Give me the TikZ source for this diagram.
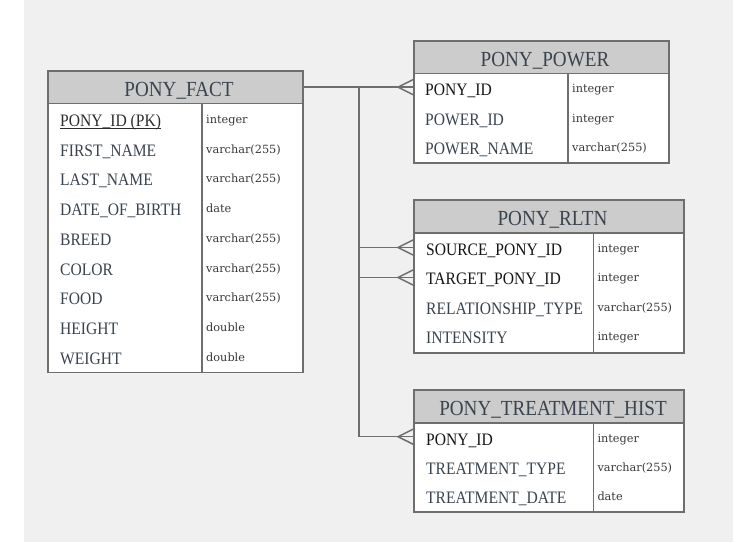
\documentclass[tikz,border=0pt]{standalone}
\usepackage{fontspec}
\setmainfont{Liberation Serif}
\newfontfamily\namefont[FakeStretch=0.89]{Liberation Serif}
\newfontfamily\typefont{DejaVu Serif}
\definecolor{bggray}{HTML}{F0F0F0}
\definecolor{hdrgray}{HTML}{CCCCCC}
\definecolor{bordergray}{HTML}{6E6E6E}
\definecolor{slate}{HTML}{3A444F}
\definecolor{fkblack}{HTML}{151515}
\tikzset{
  tblbody/.style={draw=bordergray, line width=1.6pt, fill=white, anchor=north west, inner sep=0pt, outer sep=0pt},
  tblhead/.style={draw=bordergray, line width=1.6pt, fill=hdrgray, anchor=north west, inner sep=0pt, outer sep=0pt},
  divline/.style={draw=bordergray, line width=1.6pt},
  headtxt/.style={anchor=base, inner sep=0pt, text=slate, font=\namefont\fontsize{21.5}{24}\selectfont},
  nametxt/.style={anchor=base west, inner sep=0pt, text=slate, font=\namefont\fontsize{17.5}{20}\selectfont},
  fktxt/.style={nametxt, text=fkblack},
  typetxt/.style={anchor=base west, inner sep=0pt, text=fkblack!85, font=\typefont\fontsize{11.3}{13}\selectfont},
  conn/.style={draw=bordergray, line width=1.5pt},
}
\begin{document}
\begin{tikzpicture}[x=1pt, y=-1pt]
\useasboundingbox (0,0) rectangle (733,542);
\fill[bggray] (24,0) rectangle (733,542);

% ---------------- PONY_FACT ----------------
\node[tblbody, minimum width=255pt, minimum height=301.5pt] (fact) at (48,71) {};
\node[tblhead, minimum width=255pt, minimum height=32.3pt] (factH) at (48,71) {};
\draw[divline] (factH.south -| 202,0) -- (fact.south -| 202,0);
\node[headtxt] (factT) at (179,96.3) {PONY\_FACT};
\node[nametxt, text=fkblack!90] (f1) at (60,126.5) {PONY\_ID (PK)};
\draw[fkblack!90, line width=0.9pt] ([yshift=-1.6pt]f1.base west) -- ([yshift=-1.6pt]f1.base east);
\node[nametxt] (f2) at (60,156.2) {FIRST\_NAME};
\node[nametxt] (f3) at (60,185.9) {LAST\_NAME};
\node[nametxt] (f4) at (60,215.6) {DATE\_OF\_BIRTH};
\node[nametxt] (f5) at (60,245.3) {BREED};
\node[nametxt] (f6) at (60,275.0) {COLOR};
\node[nametxt] (f7) at (60,304.7) {FOOD};
\node[nametxt] (f8) at (60,334.4) {HEIGHT};
\node[nametxt] (f9) at (60,364.1) {WEIGHT};
\node[typetxt] (ft1) at (206,123.5) {integer};
\node[typetxt] (ft2) at (206,153.2) {varchar(255)};
\node[typetxt] (ft3) at (206,182.9) {varchar(255)};
\node[typetxt] (ft4) at (206,212.6) {date};
\node[typetxt] (ft5) at (206,242.3) {varchar(255)};
\node[typetxt] (ft6) at (206,272.0) {varchar(255)};
\node[typetxt] (ft7) at (206,301.7) {varchar(255)};
\node[typetxt] (ft8) at (206,331.4) {double};
\node[typetxt] (ft9) at (206,361.1) {double};

% ---------------- PONY_POWER ----------------
\node[tblbody, minimum width=255pt, minimum height=122pt] (power) at (414,40.7) {};
\node[tblhead, minimum width=255pt, minimum height=32.6pt] (powerH) at (414,40.7) {};
\draw[divline] (powerH.south -| 567.7,0) -- (power.south -| 567.7,0);
\node[headtxt] (powerT) at (545,66) {PONY\_POWER};
\node[fktxt] (p1) at (425,95.9) {PONY\_ID};
\node[nametxt] (p2) at (425,125.4) {POWER\_ID};
\node[nametxt] (p3) at (425,154.9) {POWER\_NAME};
\node[typetxt] (pt1) at (572,92.9) {integer};
\node[typetxt] (pt2) at (572,122.4) {integer};
\node[typetxt] (pt3) at (572,151.9) {varchar(255)};

% ---------------- PONY_RLTN ----------------
\node[tblbody, minimum width=270pt, minimum height=152.7pt] (rltn) at (414,200) {};
\node[tblhead, minimum width=270pt, minimum height=32.7pt] (rltnH) at (414,200) {};
\draw[divline] (rltnH.south -| 593.3,0) -- (rltn.south -| 593.3,0);
\node[headtxt] (rltnT) at (552.5,225.3) {PONY\_RLTN};
\node[fktxt] (r1) at (426,255.5) {SOURCE\_PONY\_ID};
\node[fktxt] (r2) at (426,284.8) {TARGET\_PONY\_ID};
\node[nametxt] (r3) at (426,314.1) {RELATIONSHIP\_TYPE};
\node[nametxt] (r4) at (426,343.4) {INTENSITY};
\node[typetxt] (rt1) at (597.3,252.5) {integer};
\node[typetxt] (rt2) at (597.3,281.8) {integer};
\node[typetxt] (rt3) at (597.3,311.1) {varchar(255)};
\node[typetxt] (rt4) at (597.3,340.4) {integer};

% ---------------- PONY_TREATMENT_HIST ----------------
\node[tblbody, minimum width=270pt, minimum height=121.7pt] (treat) at (414,390) {};
\node[tblhead, minimum width=270pt, minimum height=32.7pt] (treatH) at (414,390) {};
\draw[divline] (treatH.south -| 593.3,0) -- (treat.south -| 593.3,0);
\node[headtxt] (treatT) at (553,415.3) {PONY\_TREATMENT\_HIST};
\node[fktxt] (t1) at (426,445.3) {PONY\_ID};
\node[nametxt] (t2) at (426,474.3) {TREATMENT\_TYPE};
\node[nametxt] (t3) at (426,503.3) {TREATMENT\_DATE};
\node[typetxt] (tt1) at (597.3,442.3) {integer};
\node[typetxt] (tt2) at (597.3,471.3) {varchar(255)};
\node[typetxt] (tt3) at (597.3,500.3) {date};

% ---------------- connectors ----------------
\coordinate (cPower) at (power.west |- factH.east);
\coordinate (cSrc) at (414,247.5);
\coordinate (cTgt) at (414,277.5);
\coordinate (cTreat) at (414,436.7);
\coordinate (trunk) at (359,0 |- factH.east);

\draw[conn] (factH.east) -- (cPower);
\draw[conn] (trunk) |- (cTreat);
\draw[conn] (trunk |- cSrc) -- (cSrc);
\draw[conn] (trunk |- cTgt) -- (cTgt);
\foreach \c in {cPower,cSrc,cTgt,cTreat}{
  \draw[conn] ([yshift=8pt]\c) -- ([xshift=-16pt]\c) -- ([yshift=-8pt]\c);
}
\end{tikzpicture}
\end{document}
